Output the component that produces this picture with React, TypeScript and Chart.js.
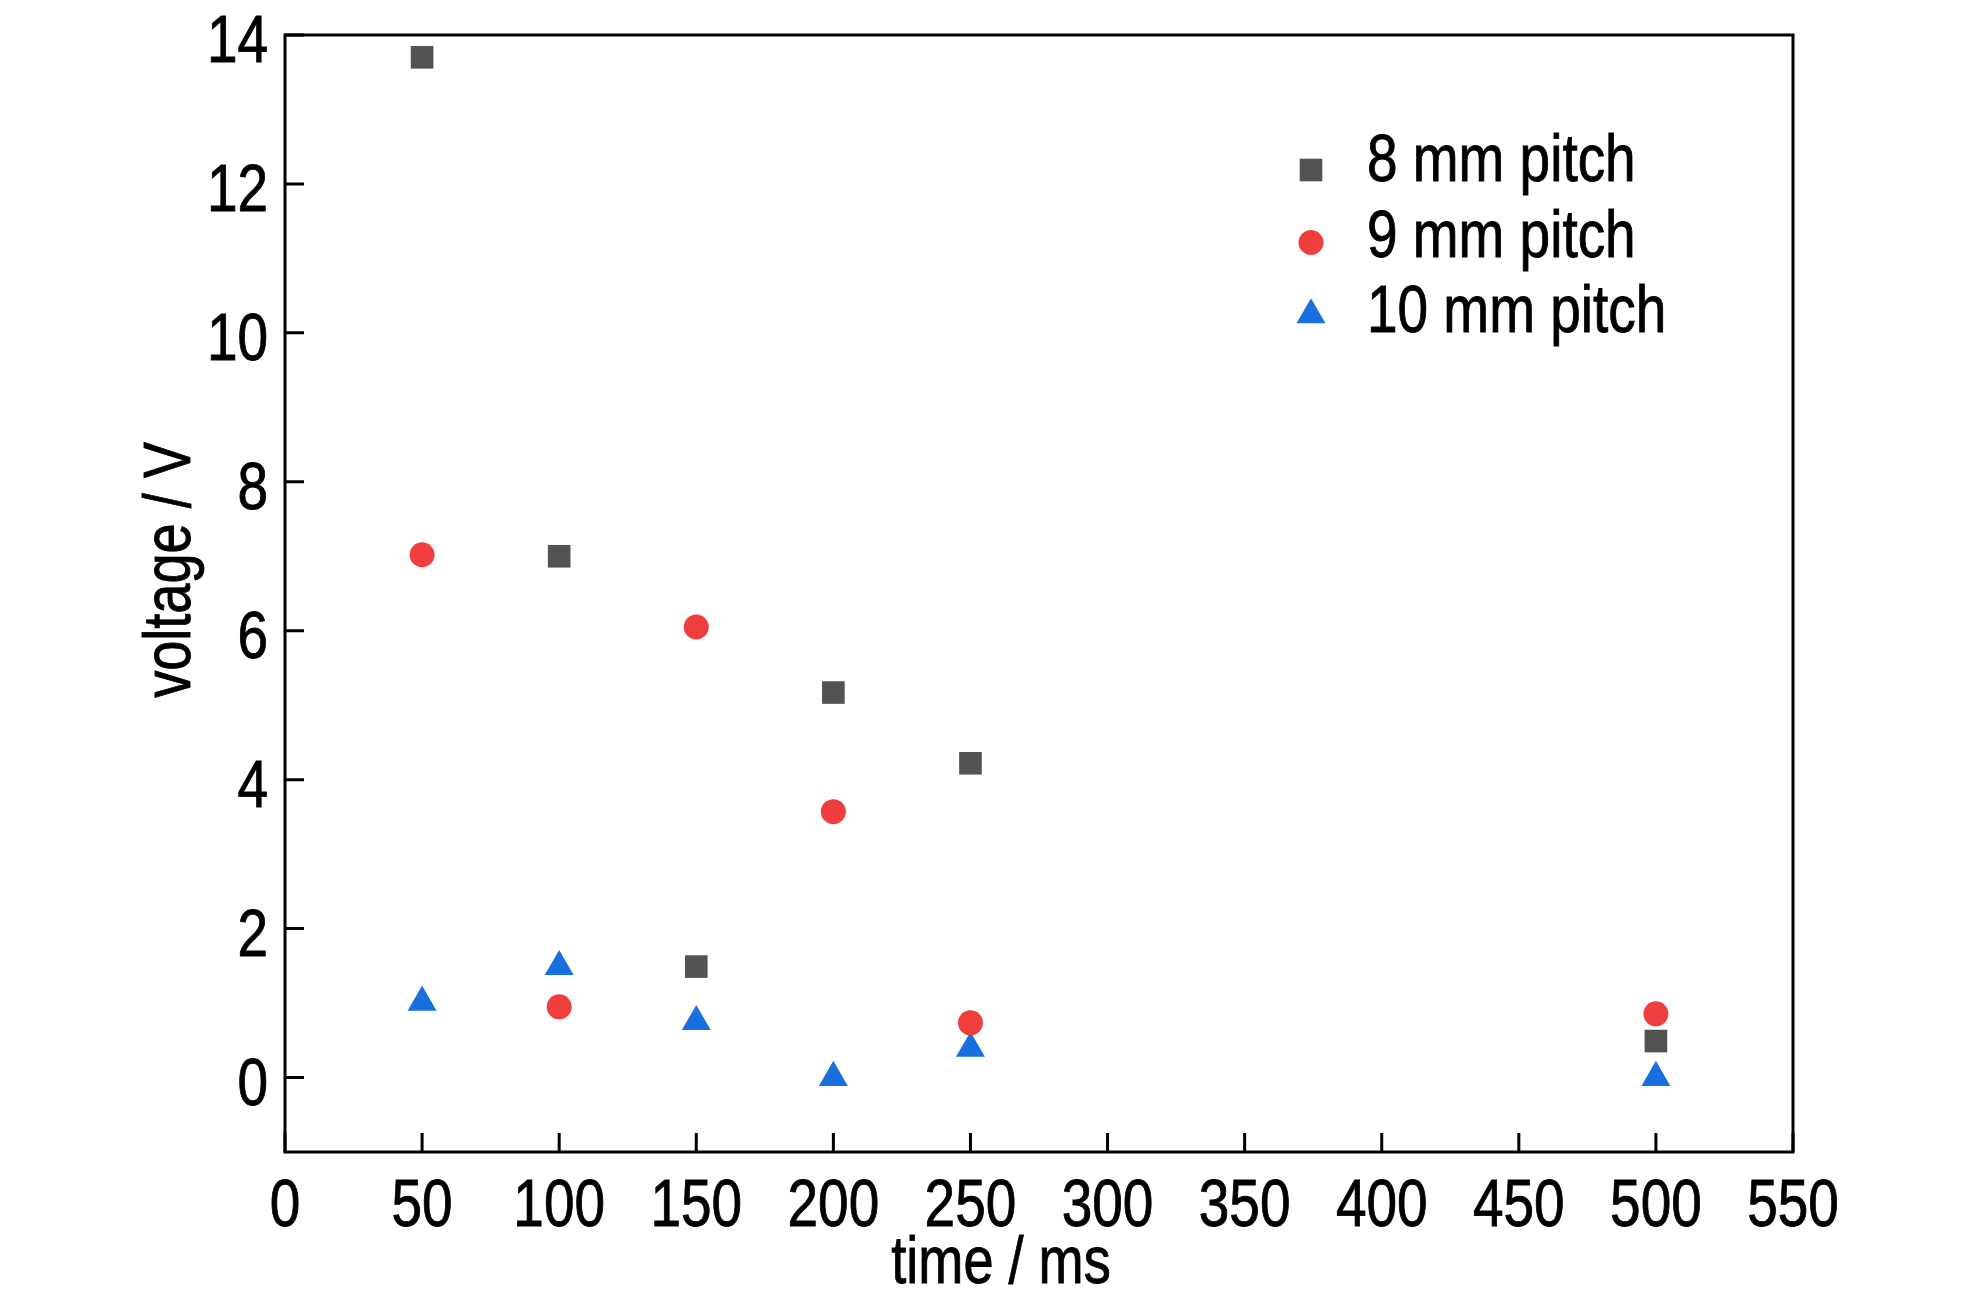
import React, { useEffect, useRef } from 'react';
import { Chart, registerables } from 'chart.js';
import { drawPoint } from 'chart.js/helpers';

Chart.register(...registerables);

// ---- data ----
const seriesLabels = ['8 mm pitch', '9 mm pitch', '10 mm pitch'];
const timeMs = [50, 100, 150, 200, 250, 500];
const voltage8mm = [13.7, 7.0, 1.49, 5.17, 4.22, 0.49];
const voltage9mm = [7.02, 0.95, 6.05, 3.57, 0.735, 0.855];
const voltage10mm = [1.01, 1.49, 0.75, 0.0, 0.39, 0.0];
const xTickValues = [0, 50, 100, 150, 200, 250, 300, 350, 400, 450, 500, 550];
const yTickValues = [0, 2, 4, 6, 8, 10, 12, 14];
const xTitle = 'time / ms';
const yTitle = 'voltage / V';

const FONT = "'Liberation Sans', Arial, sans-serif";
const FONT_SIZE = 67;
const NARROW = 0.82;
const colors = ['#535353', '#ef3e3e', '#1a6fdf'];
const styles = ['rect', 'circle', 'triangle'];
const radii = [16, 12.5, 16.7];

const toPoints = (ys: number[]) => timeMs.map((x, i) => ({ x, y: ys[i] }));

function narrowText(ctx: CanvasRenderingContext2D, text: string, x: number, y: number, align: CanvasTextAlign, rot = 0) {
  ctx.save();
  ctx.translate(x, y);
  if (rot) ctx.rotate(rot);
  ctx.scale(NARROW, 1);
  ctx.textAlign = align;
  ctx.textBaseline = 'alphabetic';
  ctx.fillText(text, 0, 0);
  ctx.strokeStyle = ctx.fillStyle as string;
  ctx.lineWidth = 0.9;
  ctx.strokeText(text, 0, 0);
  ctx.restore();
}

const decorPlugin = {
  id: 'decor',
  afterDraw(chart: any) {
    const { ctx, chartArea } = chart;
    const { left, right, top, bottom } = chartArea;
    const xs = chart.scales.x;
    const ys = chart.scales.y;
    ctx.save();
    // frame
    ctx.strokeStyle = '#000';
    ctx.lineWidth = 3;
    ctx.strokeRect(left, top, right - left, bottom - top);
    // inward ticks
    ctx.beginPath();
    const tl = 19;
    xs.ticks.forEach((t: any) => {
      const px = xs.getPixelForValue(t.value);
      ctx.moveTo(px, bottom);
      ctx.lineTo(px, bottom - tl);
    });
    ys.ticks.forEach((t: any) => {
      const py = ys.getPixelForValue(t.value);
      ctx.moveTo(left, py);
      ctx.lineTo(left + tl, py);
    });
    ctx.stroke();

    // tick labels (narrow face)
    ctx.fillStyle = '#000';
    ctx.font = `${FONT_SIZE}px ${FONT}`;
    xs.ticks.forEach((t: any) => {
      const px = xs.getPixelForValue(t.value);
      narrowText(ctx, String(t.label ?? t.value), px, bottom + 74, 'center');
    });
    ys.ticks.forEach((t: any) => {
      const py = ys.getPixelForValue(t.value);
      narrowText(ctx, String(t.label ?? t.value), left - 17, py + 27, 'right');
    });

    // axis titles
    ctx.font = `66px ${FONT}`;
    narrowText(ctx, xTitle, left + 716, 1283, 'center');
    narrowText(ctx, yTitle, 190, top + 535, 'center', -Math.PI / 2);

    // legend
    chart.data.datasets.forEach((ds: any, i: number) => {
      const mx = left + 1026;
      const my = top + 135 + i * 72.5;
      ctx.fillStyle = ds.backgroundColor;
      drawPoint(ctx, { pointStyle: ds.pointStyle, radius: ds.pointRadius, rotation: 0, borderWidth: 0 } as any, mx, my);
      ctx.fillStyle = '#000';
      ctx.font = `${FONT_SIZE}px ${FONT}`;
      narrowText(ctx, ds.label, left + 1082, top + 146 + i * 75.5, 'left');
    });
    ctx.restore();
  },
};

export default function App() {
  const ref = useRef<HTMLCanvasElement | null>(null);
  useEffect(() => {
    if (!ref.current) return;
    const seriesData = [voltage8mm, voltage9mm, voltage10mm];
    const chart = new Chart(ref.current, {
      type: 'scatter',
      data: {
        datasets: seriesData.map((ys, i) => ({
          label: seriesLabels[i],
          data: toPoints(ys),
          pointStyle: styles[i] as any,
          pointRadius: radii[i],
          pointHoverRadius: radii[i],
          backgroundColor: colors[i],
          borderColor: colors[i],
          pointBorderWidth: 0,
          borderWidth: 0,
          showLine: false,
          clip: false as any,
        })),
      },
      options: {
        animation: false,
        responsive: true,
        maintainAspectRatio: false,
        events: [],
        layout: { padding: { left: 0, top: 35, right: 191, bottom: 0 } },
        plugins: { legend: { display: false }, tooltip: { enabled: false } },
        scales: {
          x: {
            type: 'linear',
            min: 0,
            max: 550,
            afterBuildTicks: (s: any) => {
              s.ticks = xTickValues.map((v) => ({ value: v }));
            },
            afterFit: (s: any) => {
              s.height = 147;
              s.paddingLeft = 0;
              s.paddingRight = 0;
            },
            grid: { display: false, drawTicks: false },
            border: { display: false },
            ticks: { display: false, autoSkip: false, maxRotation: 0 },
          },
          y: {
            type: 'linear',
            min: -1,
            max: 14,
            afterBuildTicks: (s: any) => {
              s.ticks = yTickValues.map((v) => ({ value: v }));
            },
            afterFit: (s: any) => {
              s.width = 285;
              s.paddingTop = 0;
              s.paddingBottom = 0;
            },
            grid: { display: false, drawTicks: false },
            border: { display: false },
            ticks: { display: false, autoSkip: false },
          },
        },
      },
      plugins: [decorPlugin],
    });
    return () => chart.destroy();
  }, []);
  return (
    <div style={{ position: 'fixed', left: 0, top: 0, width: 1984, height: 1299, background: '#fff' }}>
      <canvas ref={ref} />
    </div>
  );
}
